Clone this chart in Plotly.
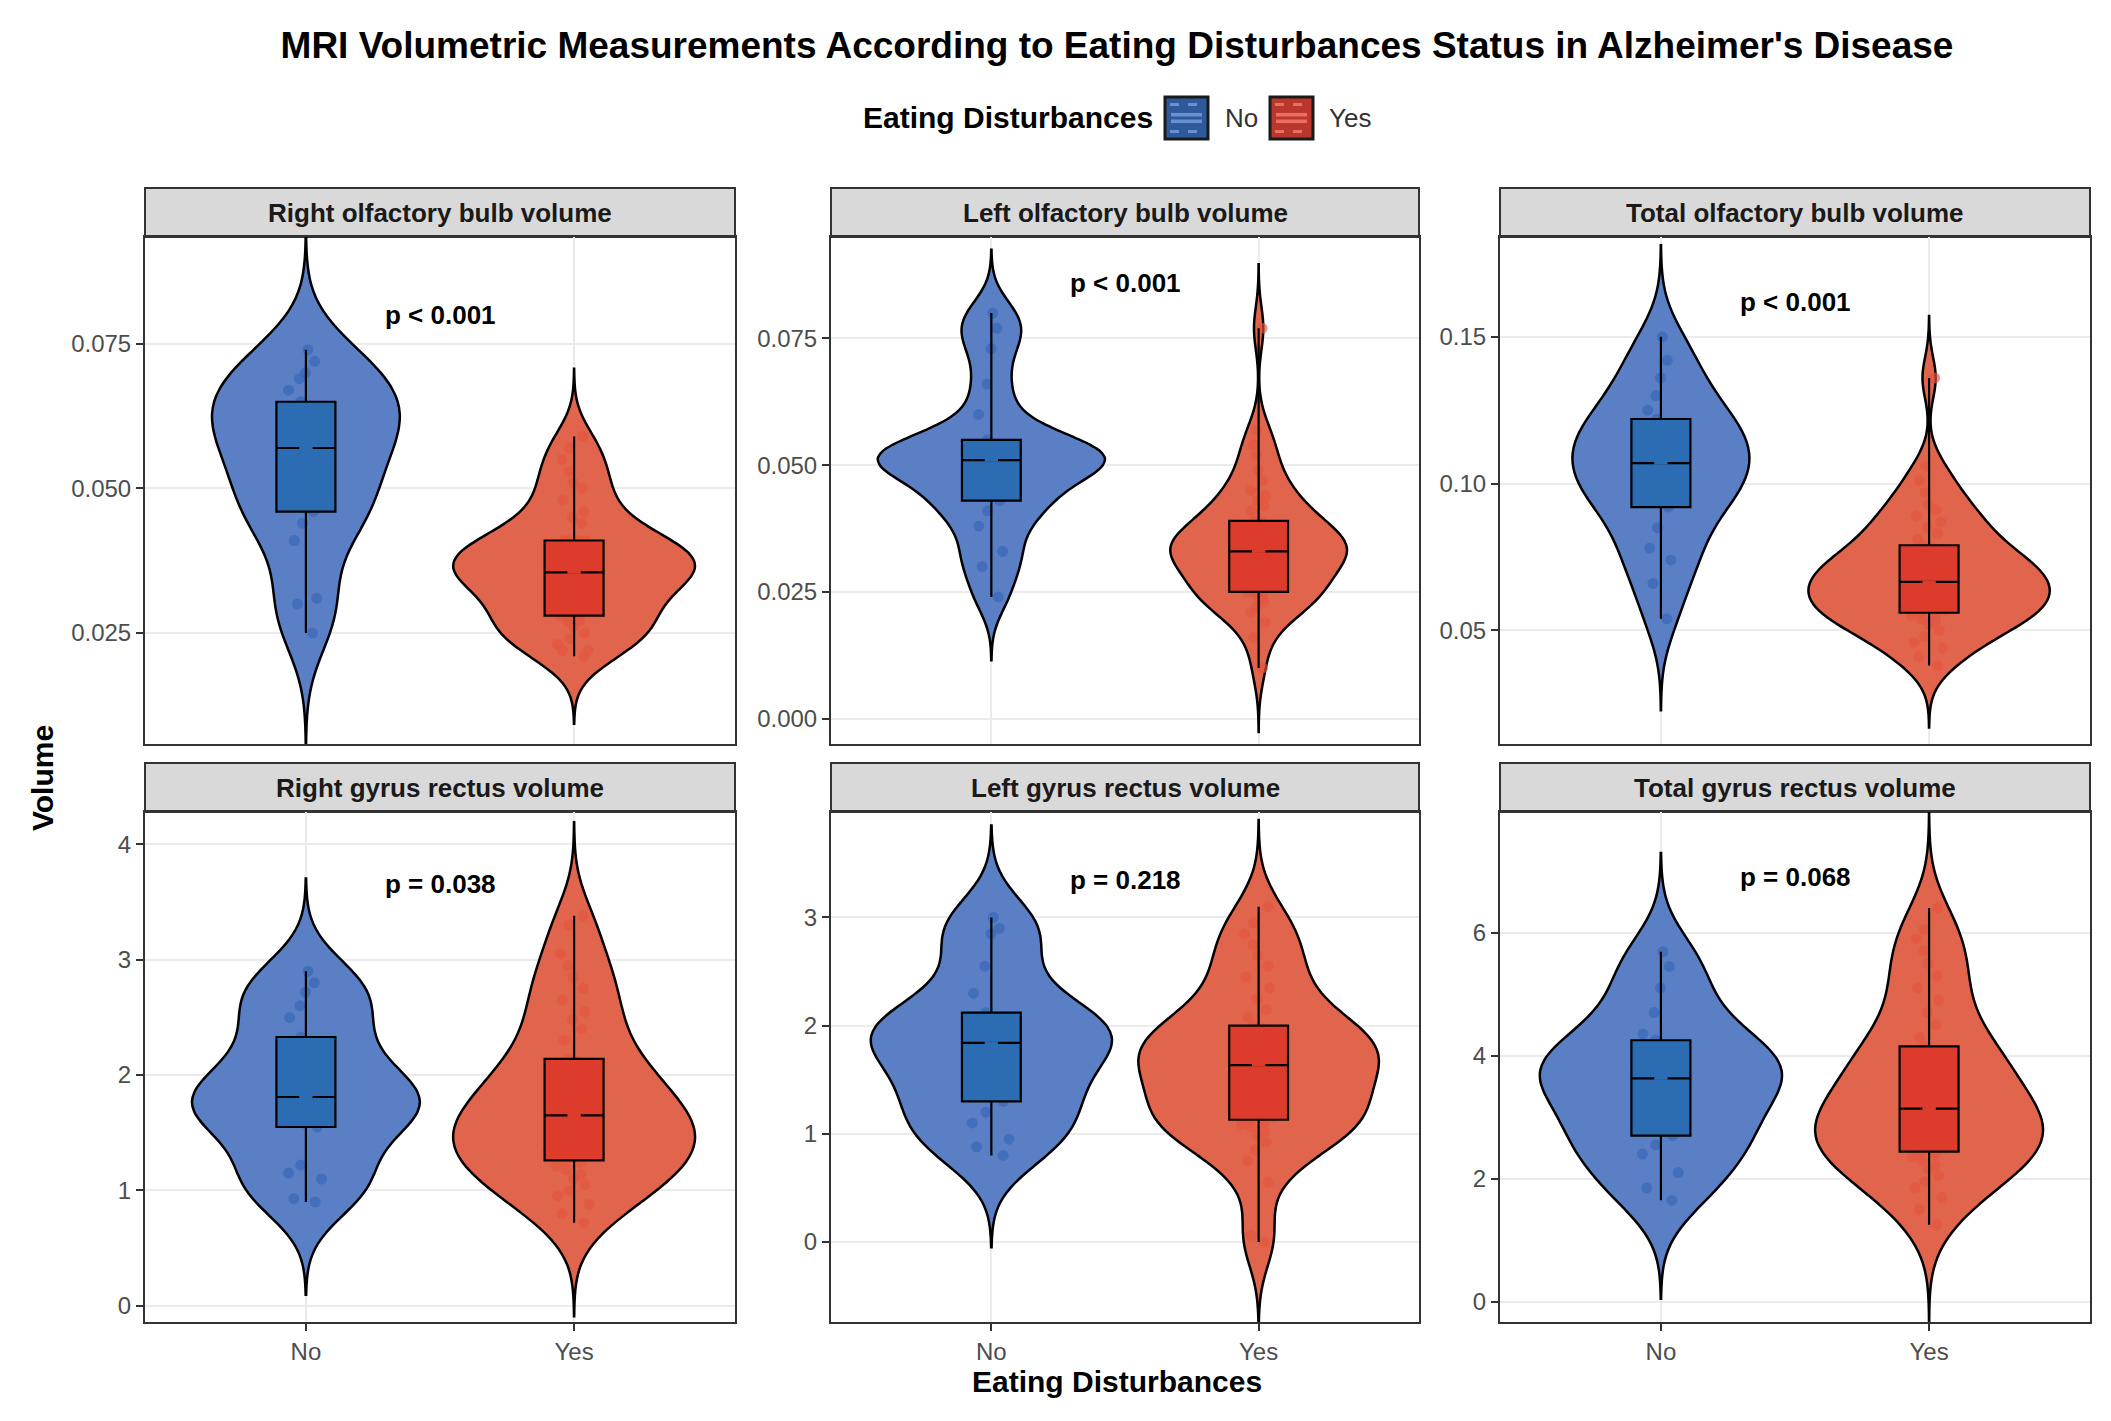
import numpy as np
import plotly.graph_objects as go
from plotly.subplots import make_subplots

# panels, left to right, top to bottom
panel_titles = [
    "Right olfactory bulb volume",
    "Left olfactory bulb volume",
    "Total olfactory bulb volume",
    "Right gyrus rectus volume",
    "Left gyrus rectus volume",
    "Total gyrus rectus volume",
]
groups = ["No", "Yes"]

right_ob_no = [0.025, 0.030, 0.031, 0.041, 0.044, 0.046, 0.047, 0.048, 0.052, 0.055, 0.056,
               0.058, 0.060, 0.061, 0.063, 0.064, 0.065, 0.067, 0.069, 0.070, 0.072, 0.074]
right_ob_yes = [0.021, 0.022, 0.022, 0.023, 0.024, 0.025, 0.026, 0.027, 0.027, 0.028, 0.028,
                0.028, 0.030, 0.031, 0.032, 0.033, 0.034, 0.034, 0.035, 0.035, 0.035, 0.035,
                0.035, 0.036, 0.037, 0.037, 0.038, 0.038, 0.039, 0.039, 0.040, 0.040, 0.041,
                0.041, 0.041, 0.041, 0.044, 0.045, 0.046, 0.048, 0.050, 0.051, 0.053, 0.055,
                0.057, 0.059]
left_ob_no = [0.024, 0.030, 0.033, 0.038, 0.041, 0.043, 0.044, 0.047, 0.049, 0.050, 0.051,
              0.051, 0.052, 0.052, 0.053, 0.054, 0.055, 0.060, 0.066, 0.073, 0.077, 0.080]
left_ob_yes = [0.010, 0.016, 0.019, 0.021, 0.022, 0.023, 0.024, 0.024, 0.025, 0.025, 0.025,
               0.025, 0.027, 0.028, 0.029, 0.030, 0.031, 0.031, 0.032, 0.032, 0.032, 0.033,
               0.033, 0.033, 0.034, 0.034, 0.035, 0.035, 0.036, 0.036, 0.037, 0.038, 0.038,
               0.039, 0.039, 0.041, 0.042, 0.043, 0.044, 0.045, 0.047, 0.049, 0.052, 0.054,
               0.057, 0.077]
total_ob_no = [0.054, 0.066, 0.074, 0.078, 0.085, 0.092, 0.094, 0.097, 0.100, 0.103, 0.105,
               0.109, 0.111, 0.113, 0.116, 0.119, 0.122, 0.125, 0.130, 0.136, 0.142, 0.150]
total_ob_yes = [0.038, 0.041, 0.044, 0.046, 0.048, 0.050, 0.052, 0.053, 0.054, 0.055, 0.055,
                0.056, 0.057, 0.058, 0.059, 0.060, 0.061, 0.062, 0.063, 0.064, 0.065, 0.066,
                0.066, 0.067, 0.068, 0.069, 0.070, 0.071, 0.072, 0.073, 0.074, 0.075, 0.077,
                0.078, 0.079, 0.081, 0.083, 0.085, 0.087, 0.089, 0.091, 0.093, 0.097, 0.101,
                0.106, 0.136]
right_gr_no = [0.90, 0.93, 1.10, 1.15, 1.22, 1.55, 1.58, 1.60, 1.68, 1.74, 1.78,
               1.84, 1.88, 1.95, 2.05, 2.20, 2.33, 2.50, 2.60, 2.72, 2.80, 2.90]
right_gr_yes = [0.72, 0.80, 0.88, 0.95, 1.00, 1.05, 1.10, 1.14, 1.18, 1.21, 1.24,
                1.26, 1.30, 1.34, 1.38, 1.42, 1.45, 1.48, 1.50, 1.53, 1.56, 1.60,
                1.63, 1.67, 1.70, 1.74, 1.78, 1.82, 1.86, 1.92, 1.98, 2.04, 2.10,
                2.12, 2.14, 2.30, 2.40, 2.48, 2.55, 2.65, 2.75, 2.85, 2.95, 3.05,
                3.30, 3.38]
left_gr_no = [0.80, 0.88, 0.95, 1.10, 1.20, 1.30, 1.38, 1.50, 1.62, 1.72, 1.80,
              1.88, 1.92, 1.96, 2.00, 2.05, 2.12, 2.30, 2.55, 2.85, 2.90, 3.00]
left_gr_yes = [0.00, 0.06, 0.55, 0.75, 0.85, 0.92, 0.98, 1.02, 1.06, 1.09, 1.11,
               1.13, 1.16, 1.20, 1.25, 1.30, 1.35, 1.40, 1.45, 1.50, 1.55, 1.60,
               1.62, 1.65, 1.68, 1.72, 1.75, 1.78, 1.82, 1.85, 1.88, 1.92, 1.95,
               1.97, 2.00, 2.08, 2.15, 2.25, 2.35, 2.45, 2.55, 2.65, 2.75, 2.85,
               2.95, 3.10]
total_gr_no = [1.65, 1.85, 2.10, 2.40, 2.55, 2.70, 2.80, 3.00, 3.25, 3.45, 3.58,
               3.68, 3.75, 3.82, 3.90, 4.05, 4.25, 4.35, 4.70, 5.10, 5.45, 5.69]
total_gr_yes = [1.25, 1.50, 1.70, 1.85, 1.95, 2.05, 2.15, 2.22, 2.30, 2.36, 2.40,
                2.44, 2.50, 2.58, 2.65, 2.72, 2.78, 2.84, 2.90, 2.96, 3.02, 3.08,
                3.12, 3.16, 3.25, 3.35, 3.45, 3.55, 3.65, 3.75, 3.85, 3.95, 4.02,
                4.08, 4.15, 4.30, 4.50, 4.70, 4.90, 5.10, 5.30, 5.50, 5.70, 5.90,
                6.05, 6.40]

panel_data = [
    (right_ob_no, right_ob_yes),
    (left_ob_no, left_ob_yes),
    (total_ob_no, total_ob_yes),
    (right_gr_no, right_gr_yes),
    (left_gr_no, left_gr_yes),
    (total_gr_no, total_gr_yes),
]

p_labels = ["p < 0.001", "p < 0.001", "p < 0.001", "p = 0.038", "p = 0.218", "p = 0.068"]
p_label_y = [0.080, 0.086, 0.162, 3.66, 3.35, 6.90]

y_ranges = [[0.0058, 0.0935], [-0.005, 0.095], [0.0113, 0.184],
            [-0.14, 4.28], [-0.74, 3.975], [-0.33, 7.96]]
y_dticks = [0.025, 0.025, 0.05, 1, 1, 2]
y_formats = [".3f", ".3f", ".2f", "d", "d", "d"]
violin_widths = [[0.70, 0.90], [0.85, 0.66], [0.66, 0.90],
                 [0.85, 0.90], [0.90, 0.90], [0.90, 0.85]]

violin_fill = ["#5b7fc4", "#e0654c"]
box_fill = ["#2b6cb3", "#dd3c2c"]
point_col = ["#3566b8", "#e4553d"]
key_dark = ["#2e5a9c", "#b9372d"]
key_light = ["#6a90cf", "#e8705e"]

FONT = "Liberation Sans, Arial, sans-serif"
# the page puts an 8px margin round the figure, so work in screen pixels
PAGE_W, PAGE_H, PAD = 2111, 1421, 8
W, H = PAGE_W - 2 * PAD, PAGE_H - 2 * PAD
col_px = [(145, 735), (831, 1419), (1500, 2090)]
row_px = [(237, 744), (812, 1322)]
STRIP = 49
key_x = [(1165, 1208), (1270, 1313)]
key_label_x = [1223, 1327]
KEY_Y = (97, 139)


def px(x):
    return (x - PAD) / W


def py(y):
    return 1 - (y - PAD) / H


def nrd0(v):
    # R's default bandwidth, so the violins look like ggplot's
    v = np.asarray(v, dtype=float)
    q75, q25 = np.percentile(v, [75, 25])
    lo = min(v.std(ddof=1), (q75 - q25) / 1.34)
    return 0.9 * lo * len(v) ** -0.2


fig = make_subplots(rows=2, cols=3)
shapes = []
annotations = []

for i, (title, data) in enumerate(zip(panel_titles, panel_data)):
    r, c = divmod(i, 3)
    ax = i + 1
    xa = "x" if ax == 1 else f"x{ax}"
    ya = "y" if ax == 1 else f"y{ax}"

    for g, vals in enumerate(data):
        bw = nrd0(vals)
        fig.add_trace(go.Violin(
            x0=g, y=vals, name=groups[g], legendgroup=groups[g], showlegend=False,
            width=violin_widths[i][g], scalegroup=f"{i}-{g}", scalemode="width",
            bandwidth=bw, spanmode="manual", span=[min(vals) - 3 * bw, max(vals) + 3 * bw],
            fillcolor=violin_fill[g], opacity=1, line=dict(color="black", width=2.5),
            points="all", pointpos=0, jitter=0.22,
            marker=dict(color=point_col[g], size=11, opacity=0.65, line=dict(width=0)),
            box_visible=False, meanline_visible=False, hoverinfo="y",
        ), row=r + 1, col=c + 1)

    for g, vals in enumerate(data):
        fig.add_trace(go.Box(
            x0=g, y=vals, name=groups[g], legendgroup=groups[g], showlegend=False,
            width=0.22, fillcolor=box_fill[g], line=dict(color="black", width=2.2),
            whiskerwidth=0, boxpoints=False, hoverinfo="y",
        ), row=r + 1, col=c + 1)
        # break the median line in the middle to mimic the dashed median
        med = float(np.median(vals))
        shapes.append(dict(type="line", xref=xa, yref=ya, x0=g - 0.025, x1=g + 0.025,
                           y0=med, y1=med, line=dict(color=box_fill[g], width=3),
                           layer="above"))

    x0p, x1p = col_px[c]
    y0p, y1p = row_px[r]
    fig.layout[f"xaxis{ax}"].domain = [px(x0p), px(x1p)]
    fig.layout[f"yaxis{ax}"].domain = [py(y1p), py(y0p)]

    # facet strip
    shapes.append(dict(type="rect", xref="paper", yref="paper",
                       x0=px(x0p), x1=px(x1p), y0=py(y0p), y1=py(y0p - STRIP),
                       fillcolor="#d9d9d9", line=dict(color="#333333", width=2), layer="below"))
    annotations.append(dict(text=f"<b>{title}</b>", xref="paper", yref="paper",
                            x=px((x0p + x1p) / 2), y=py(y0p - STRIP / 2),
                            xanchor="center", yanchor="middle", showarrow=False,
                            font=dict(size=26, color="#1a1a1a", family=FONT)))
    annotations.append(dict(text=f"<b>{p_labels[i]}</b>", xref=xa, yref=ya, x=0.5,
                            y=p_label_y[i], xanchor="center", yanchor="middle",
                            showarrow=False, font=dict(size=26, color="black", family=FONT)))

    fig.update_xaxes(range=[-0.6, 1.6], tickvals=[0, 1], ticktext=groups,
                     showticklabels=(r == 1), ticks="outside" if r == 1 else "",
                     ticklen=7, tickwidth=2, tickcolor="#333333",
                     showgrid=True, gridcolor="#ebebeb", gridwidth=2, zeroline=False,
                     showline=True, mirror=True, linecolor="#333333", linewidth=2,
                     tickfont=dict(size=24, color="#4d4d4d", family=FONT),
                     row=r + 1, col=c + 1)
    fig.update_yaxes(range=y_ranges[i], tick0=0, dtick=y_dticks[i], tickformat=y_formats[i],
                     ticks="outside", ticklen=7, tickwidth=2, tickcolor="#333333",
                     showgrid=True, gridcolor="#ebebeb", gridwidth=2, zeroline=False,
                     showline=True, mirror=True, linecolor="#333333", linewidth=2,
                     tickfont=dict(size=24, color="#4d4d4d", family=FONT),
                     row=r + 1, col=c + 1)

# legend drawn by hand so the keys can be as large as ggplot's
ky0, ky1 = KEY_Y
kh = ky1 - ky0
for g in range(2):
    kx0, kx1 = key_x[g]
    shapes.append(dict(type="rect", xref="paper", yref="paper",
                       x0=px(kx0), x1=px(kx1), y0=py(ky1), y1=py(ky0),
                       fillcolor=key_dark[g], line=dict(color="#1a1a1a", width=3)))
    shapes.append(dict(type="rect", xref="paper", yref="paper",
                       x0=px(kx0 + 6), x1=px(kx1 - 6), y0=py(ky0 + kh * 0.62),
                       y1=py(ky0 + kh * 0.38), fillcolor=key_light[g], line=dict(width=0)))
    for frac in (0.18, 0.5, 0.82):
        shapes.append(dict(type="line", xref="paper", yref="paper",
                           x0=px(kx0 + 5), x1=px(kx1 - 5),
                           y0=py(ky0 + kh * frac), y1=py(ky0 + kh * frac),
                           line=dict(color=key_light[g] if frac != 0.5 else key_dark[g],
                                     width=3, dash="dash" if frac != 0.5 else "solid")))
    annotations.append(dict(text=groups[g], xref="paper", yref="paper",
                            x=px(key_label_x[g]), y=py((ky0 + ky1) / 2),
                            xanchor="left", yanchor="middle", showarrow=False,
                            font=dict(size=26, color="#333333", family=FONT)))
annotations.append(dict(text="<b>Eating Disturbances</b>", xref="paper", yref="paper",
                        x=px(1155), y=py((ky0 + ky1) / 2), xanchor="right", yanchor="middle",
                        showarrow=False, font=dict(size=30, color="black", family=FONT)))

annotations.append(dict(text="<b>Volume</b>", xref="paper", yref="paper", x=px(42),
                        y=py(778), xanchor="center", yanchor="middle", textangle=-90,
                        showarrow=False, font=dict(size=30, color="black", family=FONT)))
annotations.append(dict(text="<b>Eating Disturbances</b>", xref="paper", yref="paper",
                        x=px(1117), y=py(1381), xanchor="center", yanchor="middle",
                        showarrow=False, font=dict(size=30, color="black", family=FONT)))

fig.update_layout(
    width=W, height=H,
    margin=dict(l=0, r=0, t=0, b=0),
    paper_bgcolor="white", plot_bgcolor="white",
    violinmode="overlay", boxmode="overlay",
    showlegend=False,
    title=dict(text="<b>MRI Volumetric Measurements According to Eating Disturbances Status in Alzheimer's Disease</b>",
               x=px(1117), xanchor="center", y=py(45), yanchor="middle",
               font=dict(size=37, color="black", family=FONT)),
    shapes=shapes,
    annotations=annotations,
)

fig.write_html("out.html")
